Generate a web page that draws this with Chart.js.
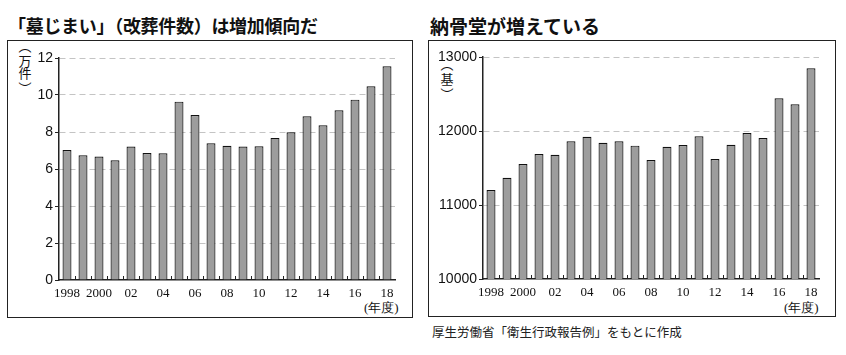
<!DOCTYPE html>
<html><head><meta charset="utf-8">
<script src="https://cdn.jsdelivr.net/npm/chart.js@4"></script>
<style>
html,body{margin:0;padding:0;background:#fff;width:846px;height:355px;overflow:hidden;}
.box{position:absolute;border:1.5px solid #222;box-sizing:border-box;}
.title{position:absolute;font-family:"Noto Sans CJK JP";font-weight:bold;font-size:18px;color:#111;white-space:nowrap;line-height:1;}
.unit{position:absolute;font-family:"Noto Sans CJK JP";font-size:13px;color:#111;text-align:center;width:16px;}
.unit span{display:block;line-height:12px;height:12px;position:relative;}
.unit span.p1{line-height:10px;height:10px;top:-4px;}
.unit span.p2{line-height:10px;height:10px;top:4px;}
.nendo{position:absolute;font-family:"Liberation Serif";font-size:13px;color:#111;white-space:nowrap;line-height:1;}
.src{position:absolute;font-family:"Noto Sans CJK JP";font-size:12.5px;color:#222;white-space:nowrap;line-height:1;}
canvas{position:absolute;}
</style></head>
<body>
<div class="title" style="left:8px;top:16px;letter-spacing:-0.3px">「墓じまい」（改葬件数）は増加傾向だ</div>
<div class="title" style="left:430px;top:16px;font-size:19px">納骨堂が増えている</div>
<div class="box" style="left:7px;top:40px;width:406px;height:278px"></div>
<div class="box" style="left:428px;top:40px;width:408px;height:277px"></div>
<div class="unit" style="left:17px;top:45px"><span class="p1">︵</span><span>万</span><span>件</span><span class="p2">︶</span></div>
<div class="unit" style="left:439px;top:63px"><span class="p1">︵</span><span>基</span><span class="p2">︶</span></div>
<div class="nendo" style="left:364px;top:301px">(年度)</div>
<div class="nendo" style="left:784px;top:301px">(年度)</div>
<div class="src" style="left:432px;top:326px">厚生労働省「衛生行政報告例」をもとに作成</div>
<canvas id="c1" width="406" height="278" style="left:7px;top:40px"></canvas>
<canvas id="c2" width="408" height="277" style="left:428px;top:40px"></canvas>
<script>
const years = ['1998','1999','2000','2001','2002','2003','2004','2005','2006','2007','2008','2009','2010','2011','2012','2013','2014','2015','2016','2017','2018'];
const tickLabels = ['1998','','2000','','02','','04','','06','','08','','10','','12','','14','','16','','18'];
const kaisou = [7.03,6.74,6.67,6.47,7.21,6.86,6.85,9.64,8.92,7.39,7.26,7.21,7.23,7.68,7.98,8.85,8.36,9.17,9.75,10.47,11.55];
const noukotsudou = [11203,11369,11554,11689,11680,11860,11923,11842,11860,11802,11608,11788,11811,11928,11622,11815,11973,11905,12441,12360,12847];
const leftTicks = [0,2,4,6,8,10,12];
const rightTicks = [10000,11000,12000,13000];

const innerTicks = {
  id:'innerTicks',
  afterDatasetsDraw(chart){
    const xs = chart.scales.x, ctx = chart.ctx, b = chart.chartArea.bottom;
    ctx.save();
    ctx.strokeStyle = '#222'; ctx.lineWidth = 1;
    for(let i=1;i<years.length;i++){
      const x = Math.round((xs.getPixelForValue(i-1)+xs.getPixelForValue(i))/2)+0.5;
      ctx.beginPath(); ctx.moveTo(x,b); ctx.lineTo(x,b-4); ctx.stroke();
    }
    ctx.restore();
  }
};

function makeChart(id, data, tickVals, min, max, yWidth, pad){
  new Chart(document.getElementById(id), {
    type:'bar',
    data:{labels:years, datasets:[{data:data, backgroundColor:'#9d9d9d', borderColor:'#111', borderWidth:1.2, barPercentage:0.56, categoryPercentage:1.0}]},
    options:{
      responsive:false, animation:false, devicePixelRatio:1,
      layout:{padding:pad},
      plugins:{legend:{display:false}, tooltip:{enabled:false}, title:{display:false}},
      scales:{
        x:{
          type:'category', offset:true,
          grid:{display:false, drawTicks:false},
          border:{display:true,color:'#222',width:1.5},
          ticks:{autoSkip:false,maxRotation:0,minRotation:0,padding:6,color:'#111',
            font:{family:'Liberation Serif',size:13},
            callback:(v,i)=>tickLabels[i]},
          afterFit:(s)=>{s.height=38;}
        },
        y:{
          min:min, max:max,
          afterBuildTicks:(s)=>{s.ticks = tickVals.map(v=>({value:v}));},
          grid:{color:(c)=>c.tick && c.tick.value===min ? 'rgba(0,0,0,0)' : '#c4c4c4', lineWidth:1, drawTicks:true, tickLength:4, tickColor:'#222', tickBorderDash:[]},
          border:{display:true,color:'#222',width:1.5,dash:[6,4]},
          ticks:{padding:2,color:'#111',font:{family:'Liberation Sans',size:14},callback:(v)=>String(v)},
          afterFit:(s)=>{s.width=yWidth;}
        }
      }
    },
    plugins:[innerTicks]
  });
}
makeChart('c1', kaisou, leftTicks, 0, 12, 52, {left:0,top:18,right:18,bottom:0});
makeChart('c2', noukotsudou, rightTicks, 10000, 13000, 55, {left:0,top:17,right:17,bottom:0});
</script>
</body></html>
